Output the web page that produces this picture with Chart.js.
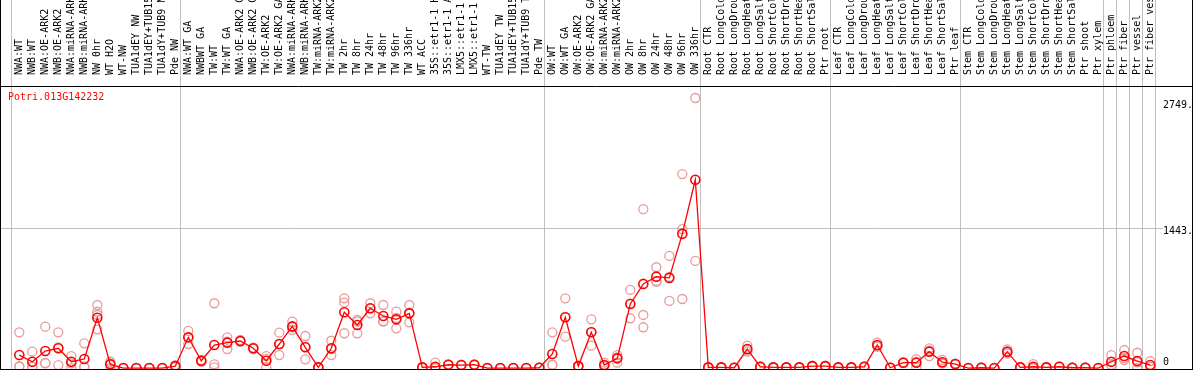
<!DOCTYPE html>
<html>
<head>
<meta charset="utf-8">
<script src="https://cdn.jsdelivr.net/npm/chart.js@4.4.1/dist/chart.umd.min.js"></script>
<style>
  html, body { margin: 0; padding: 0; background: #fff; }
  #wrap { width: 1194px; height: 370px; }
</style>
</head>
<body>
<div id="wrap"><canvas id="chart" width="1194" height="370"></canvas></div>
<script>
// ─── Data ───────────────────────────────────────────────────────
const geneName = "Potri.013G142232";

const samples = [
  // group 1
  "NWA:WT", "NWB:WT", "NWA:OE-ARK2", "NWB:OE-ARK2", "NWA:miRNA-ARK2", "NWB:miRNA-ARK2",
  "NW 0hr", "WT H2O", "WT-NW", "TUA1dEY NW", "TUA1dEY+TUB15", "TUA1dY+TUB9 NW", "Pde NW",
  // group 2
  "NWA:WT GA", "NWBWT GA", "TW:WT", "TW:WT GA", "NWA:OE-ARK2 GA", "NWB:OE-ARK2 GA",
  "TW:OE-ARK2", "TW:OE-ARK2 GA", "NWA:miRNA-ARK2", "NWB:miRNA-ARK2", "TW:miRNA-ARK2", "TW:miRNA-ARK2",
  "TW 2hr", "TW 8hr", "TW 24hr", "TW 48hr", "TW 96hr", "TW 336hr", "WT ACC",
  "35S::etr1-1 H2", "35S::etr1-1 AC", "LMX5::etr1-1 H", "LMX5::etr1-1 A",
  "WT-TW", "TUA1dEY TW", "TUA1dEY+TUB15", "TUA1dY+TUB9 TW", "Pde TW",
  // group 3
  "OW:WT", "OW:WT GA", "OW:OE-ARK2", "OW:OE-ARK2 GA", "OW:miRNA-ARK2", "OW:miRNA-ARK2",
  "OW 2hr", "OW 8hr", "OW 24hr", "OW 48hr", "OW 96hr", "OW 336hr",
  // root
  "Root CTR", "Root LongCold", "Root LongDroug", "Root LongHeat", "Root LongSalt",
  "Root ShortCold", "Root ShortDrou", "Root ShortHeat", "Root ShortSalt", "Ptr root",
  // leaf
  "Leaf CTR", "Leaf LongCold", "Leaf LongDroug", "Leaf LongHeat", "Leaf LongSalt",
  "Leaf ShortCold", "Leaf ShortDrou", "Leaf ShortHeat", "Leaf ShortSalt", "Ptr leaf",
  // stem
  "Stem CTR", "Stem LongCold", "Stem LongDroug", "Stem LongHeat", "Stem LongSalt",
  "Stem ShortCold", "Stem ShortDrou", "Stem ShortHeat", "Stem ShortSalt", "Ptr shoot", "Ptr xylem",
  // tissues
  "Ptr phloem", "Ptr fiber", "Ptr vessel", "Ptr fiber vess"
];

// first sample index of each group (last entry = end)
const groupStarts = [0, 13, 41, 53, 63, 73, 84, 85, 86, 87, 88];

const meanValues = [
  134, 65, 176, 204, 65, 93, 520, 38, 0, 0, 0, 0, 20,
  317, 75, 238, 262, 279, 204, 75, 248, 430, 214, 7, 204, 576, 445, 617, 538, 503, 565, 7, 13, 34, 31, 34, 0, 0, 0, 0, 3,
  145, 524, 20, 369, 31, 100, 662, 869, 944, 931, 1386, 1944,
  7, 7, 3, 196, 13, 7, 7, 7, 20, 20,
  7, 7, 13, 238, 3, 55, 55, 169, 60, 41,
  0, 3, 0, 169, 7, 13, 7, 13, 3, 3, 0,
  65, 124, 72, 31
];

const rep1 = [
  369, 169, 427, 369, 124, 255, 651, 65, 0, 0, 0, 0, 31,
  383, 83, 669, 317, 290, 210, 124, 365, 479, 331, 7, 282, 720, 496, 669, 651, 582, 651, 7, 55, 34, 31, 34, 0, 0, 0, 0, 3,
  369, 720, 20, 503, 55, 134, 807, 1641, 1041, 1158, 2003, 2789,
  7, 7, 3, 231, 13, 7, 7, 7, 20, 20,
  7, 7, 13, 262, 3, 55, 93, 204, 83, 41,
  0, 3, 0, 193, 7, 41, 7, 13, 3, 3, 0,
  134, 186, 158, 72
];

const rep2 = [
  13, 13, 48, 31, 48, 7, 582, 48, 0, 0, 0, 0, 20,
  248, 65, 7, 196, 272, 196, 7, 134, 393, 90, 7, 134, 675, 359, 565, 479, 410, 472, 3, 0, 30, 28, 30, 0, 0, 0, 0, 0,
  31, 324, 15, 231, 20, 55, 514, 548, 892, 693, 1434, 1106,
  3, 3, 0, 170, 10, 3, 3, 3, 15, 15,
  3, 3, 10, 220, 0, 50, 7, 124, 50, 36,
  0, 0, 0, 150, 3, 0, 3, 10, 0, 0, 0,
  30, 83, 0, 10
];

const rep3 = [
  20, 13, 53, 212, 0, 17, 548, 0, 0, 0, 0, 0, 10,
  317, 75, 38, 272, 276, 205, 94, 245, 420, 220, 7, 196, 359, 480, 617, 485, 517, 572, 10, 0, 38, 34, 38, 0, 0, 0, 0, 6,
  35, 528, 25, 373, 18, 111, 665, 421, 899, 942, 713, null,
  10, 10, 6, 187, 16, 10, 10, 10, 25, 25,
  10, 10, 16, 232, 6, 60, 65, 179, 47, 46,
  0, 6, 0, 164, 10, 0, 10, 16, 6, 6, 0,
  31, 103, 58, 11
];

// only "NW 0hr" has a fourth replicate
const rep4 = meanValues.map(() => null);
rep4[6] = 400;

const yTickValues = [0, 1443, 2749];
const yTickLabels = ["0", "1443.", "2749."];
const yGridValues = [1443];

// ─── Layout constants ───────────────────────────────────────────
const FONT = "DejaVu Sans Mono";
const colLeft = -0.64;          // column edge relative to the point
const xMin = -1.4077, xMax = 87.977;
const yMin = -10, yMax = 2913;

const toPoints = (vals) => vals.map((v, i) => ({ x: i, y: v }));

const repStyle = {
  showLine: false,
  pointRadius: 4.5,
  pointBorderWidth: 1.3,
  pointBorderColor: "#e89a9a",
  pointBackgroundColor: "rgba(0,0,0,0)",
  order: 1
};

// ─── Decorations: group lines, frame, y labels, gene name ──────
const decorations = {
  id: "decorations",
  beforeDatasetsDraw(chart) {
    const { ctx, chartArea, scales: { x } } = chart;
    ctx.save();
    ctx.strokeStyle = "#c0c0c0";
    ctx.lineWidth = 1;
    groupStarts.forEach((s) => {
      const px = Math.round(x.getPixelForValue(s + colLeft)) + 0.5;
      ctx.beginPath();
      ctx.moveTo(px, 0);
      ctx.lineTo(px, chartArea.bottom);
      ctx.stroke();
    });
    ctx.restore();
  },
  afterDraw(chart) {
    const { ctx, chartArea, width, height, scales: { x, y } } = chart;
    ctx.save();
    ctx.strokeStyle = "#000";
    ctx.lineWidth = 1;
    ctx.beginPath();
    ctx.moveTo(0.5, 0); ctx.lineTo(0.5, height);
    ctx.moveTo(width - 1.5, 0); ctx.lineTo(width - 1.5, height);
    ctx.moveTo(0, height - 0.5); ctx.lineTo(width - 1, height - 0.5);
    ctx.moveTo(0, x.bottom + 0.5); ctx.lineTo(width - 1, x.bottom + 0.5);
    ctx.stroke();

    ctx.font = `10px "${FONT}"`;
    ctx.fillStyle = "#000";
    ctx.textAlign = "left";
    ctx.textBaseline = "middle";
    yTickValues.forEach((v, i) => {
      const py = Math.min(y.getPixelForValue(v) + 3.5, chartArea.bottom - 7);
      ctx.fillText(yTickLabels[i], y.left, py);
    });

    ctx.fillStyle = "#ff0000";
    ctx.fillText(geneName, chartArea.left + 7, chartArea.top + 11);
    ctx.restore();
  }
};

// ─── Chart ──────────────────────────────────────────────────────
new Chart(document.getElementById("chart").getContext("2d"), {
  type: "line",
  data: {
    datasets: [
      {
        label: geneName,
        data: toPoints(meanValues),
        borderColor: "#ff0000",
        borderWidth: 1.3,
        tension: 0,
        pointRadius: 4.5,
        pointBorderWidth: 1.6,
        pointBorderColor: "#ff0000",
        pointBackgroundColor: "rgba(0,0,0,0)",
        order: 0
      },
      { ...repStyle, label: "rep1", data: toPoints(rep1) },
      { ...repStyle, label: "rep2", data: toPoints(rep2) },
      { ...repStyle, label: "rep3", data: toPoints(rep3) },
      { ...repStyle, label: "rep4", data: toPoints(rep4) }
    ]
  },
  options: {
    responsive: false,
    animation: false,
    devicePixelRatio: 1,
    layout: { autoPadding: false, padding: { left: 1, right: 2, top: 0, bottom: 1 } },
    plugins: { legend: { display: false }, tooltip: { enabled: false } },
    scales: {
      x: {
        type: "linear",
        position: "top",
        min: xMin,
        max: xMax,
        afterBuildTicks: (axis) => { axis.ticks = samples.map((s, i) => ({ value: i })); },
        afterFit: (axis) => {
          axis.height = 86;
          axis.paddingLeft = 0;
          axis.paddingRight = 0;
        },
        grid: { display: false },
        border: { display: false },
        ticks: {
          autoSkip: false,
          minRotation: 90,
          maxRotation: 90,
          padding: 3,
          labelOffset: 12,
          color: "#000",
          font: { family: FONT, size: 10 },
          callback: (v, i) => samples[i]
        }
      },
      y: {
        type: "linear",
        position: "right",
        min: yMin,
        max: yMax,
        afterBuildTicks: (axis) => { axis.ticks = yTickValues.map((v) => ({ value: v })); },
        afterFit: (axis) => { axis.width = 29; },
        grid: {
          drawTicks: false,
          color: (c) => (c.tick && yGridValues.includes(c.tick.value) ? "#c0c0c0" : "rgba(0,0,0,0)")
        },
        border: { display: false },
        ticks: { display: false }
      }
    }
  },
  plugins: [decorations]
});
</script>
</body>
</html>
